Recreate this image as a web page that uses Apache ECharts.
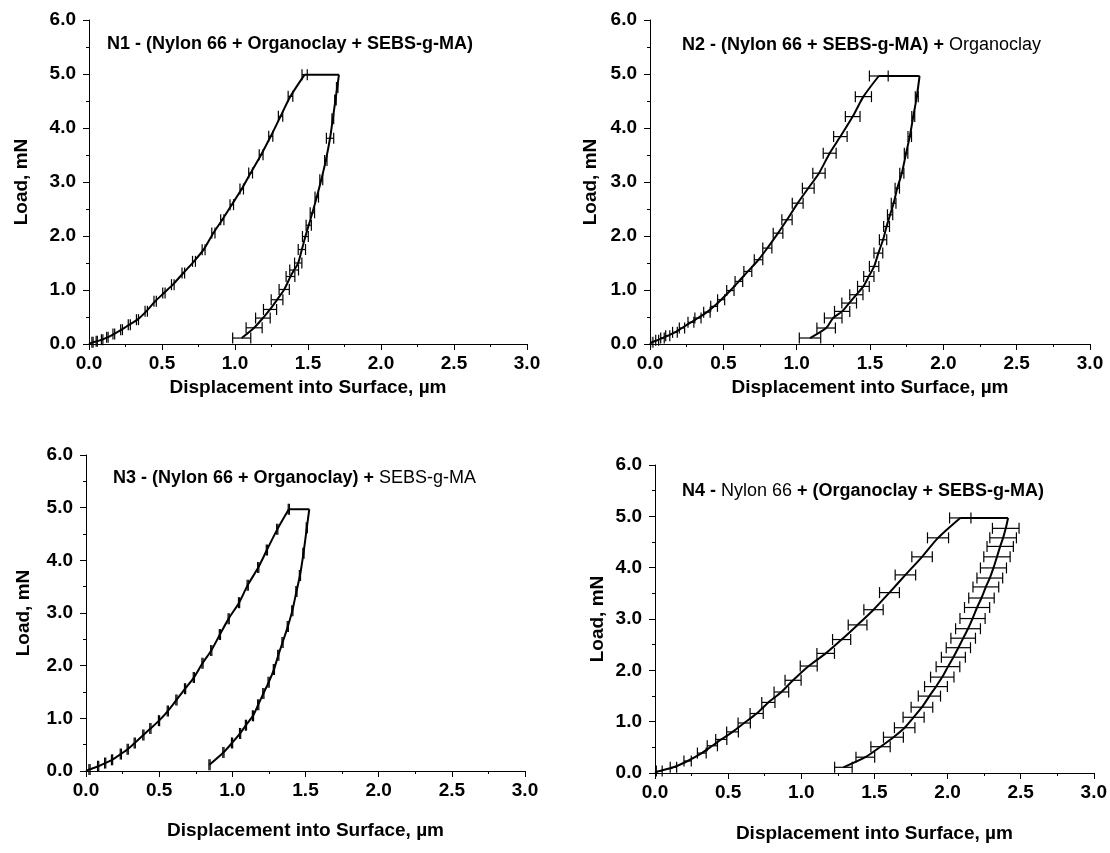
<!DOCTYPE html>
<html>
<head>
<meta charset="utf-8">
<script src="https://cdn.jsdelivr.net/npm/echarts@6/dist/echarts.min.js"></script>
<style>
  html, body { margin: 0; padding: 0; background: #fff; }
  #chart { width: 1110px; height: 853px; }
</style>
</head>
<body>
<div id="chart"></div>
<script>
// axis ticks
const xTicks = [0, 0.5, 1.0, 1.5, 2.0, 2.5, 3.0]
const yTicks = [0, 1, 2, 3, 4, 5, 6]

// N1 (x: µm, y: mN, err: ± µm; null = no bar)
const n1LoadX = [0, 0.024, 0.053, 0.090, 0.126, 0.170, 0.223, 0.276, 0.332, 0.392, 0.453, 0.513, 0.574, 0.646, 0.719, 0.785, 0.852, 0.913, 0.978, 1.046, 1.107, 1.179, 1.245, 1.312, 1.380, 1.477]
const n1LoadY = [0, 0.031, 0.049, 0.080, 0.123, 0.185, 0.265, 0.358, 0.451, 0.605, 0.790, 0.944, 1.099, 1.315, 1.531, 1.747, 2.056, 2.302, 2.580, 2.870, 3.167, 3.506, 3.846, 4.216, 4.586, 4.988]
const n1LoadErr = [null, 0.004, 0.004, 0.005, 0.005, 0.006, 0.006, 0.007, 0.007, 0.008, 0.008, 0.008, 0.009, 0.009, 0.010, 0.010, 0.011, 0.011, 0.012, 0.012, 0.013, 0.013, 0.014, 0.015, 0.016, 0.018]
const n1UnloadX = [1.712, 1.700, 1.688, 1.670, 1.651, 1.622, 1.591, 1.560, 1.530, 1.505, 1.482, 1.458, 1.433, 1.405, 1.380, 1.337, 1.288, 1.240, 1.191, 1.131, 1.046]
const n1UnloadY = [4.988, 4.75, 4.52, 4.17, 3.81, 3.40, 3.04, 2.72, 2.43, 2.20, 1.99, 1.75, 1.50, 1.37, 1.25, 1.01, 0.82, 0.64, 0.48, 0.30, 0.11]
const n1UnloadErr = [null, 0.005, 0.005, 0.006, 0.025, 0.008, 0.010, 0.012, 0.015, 0.018, 0.020, 0.025, 0.025, 0.030, 0.030, 0.035, 0.040, 0.045, 0.050, 0.055, 0.062]

// N2
const n2LoadX = [0, 0.012, 0.049, 0.085, 0.121, 0.170, 0.218, 0.279, 0.327, 0.388, 0.437, 0.485, 0.548, 0.606, 0.667, 0.740, 0.800, 0.873, 0.934, 1.007, 1.079, 1.152, 1.225, 1.298, 1.382, 1.455, 1.560]
const n2LoadY = [0, 0.031, 0.068, 0.111, 0.154, 0.216, 0.296, 0.401, 0.481, 0.590, 0.697, 0.820, 0.990, 1.159, 1.344, 1.560, 1.776, 2.053, 2.300, 2.608, 2.885, 3.163, 3.533, 3.841, 4.211, 4.581, 4.963]
const n2LoadErr = [null, 0.008, 0.010, 0.012, 0.014, 0.016, 0.018, 0.020, 0.021, 0.022, 0.023, 0.024, 0.025, 0.026, 0.027, 0.029, 0.031, 0.033, 0.035, 0.037, 0.040, 0.042, 0.044, 0.046, 0.050, 0.055, 0.064]
const n2UnloadX = [1.838, 1.819, 1.795, 1.771, 1.746, 1.717, 1.686, 1.661, 1.637, 1.613, 1.589, 1.557, 1.528, 1.492, 1.455, 1.407, 1.358, 1.310, 1.249, 1.201, 1.091]
const n2UnloadY = [4.963, 4.581, 4.211, 3.841, 3.533, 3.163, 2.885, 2.608, 2.392, 2.176, 1.930, 1.683, 1.436, 1.252, 1.067, 0.912, 0.758, 0.604, 0.481, 0.296, 0.111]
const n2UnloadErr = [null, 0.010, 0.010, 0.012, 0.012, 0.014, 0.015, 0.016, 0.018, 0.020, 0.025, 0.030, 0.032, 0.035, 0.040, 0.045, 0.050, 0.052, 0.060, 0.063, 0.073]

// N3
const n3LoadX = [0, 0.024, 0.083, 0.131, 0.178, 0.238, 0.285, 0.333, 0.392, 0.440, 0.499, 0.559, 0.618, 0.677, 0.737, 0.796, 0.856, 0.915, 0.975, 1.046, 1.105, 1.177, 1.236, 1.307, 1.386]
const n3LoadY = [0, 0.030, 0.091, 0.151, 0.212, 0.321, 0.412, 0.533, 0.684, 0.805, 0.956, 1.138, 1.350, 1.562, 1.774, 2.046, 2.288, 2.591, 2.893, 3.196, 3.529, 3.862, 4.195, 4.588, 4.970]
const n3LoadErr = [null, 0.004, 0.004, 0.004, 0.004, 0.004, 0.004, 0.004, 0.004, 0.004, 0.004, 0.004, 0.004, 0.004, 0.004, 0.004, 0.004, 0.004, 0.004, 0.004, 0.004, 0.004, 0.004, 0.004, 0.004]
const n3UnloadX = [1.526, 1.509, 1.486, 1.462, 1.438, 1.410, 1.379, 1.343, 1.314, 1.284, 1.248, 1.212, 1.177, 1.141, 1.093, 1.053, 0.998, 0.939, 0.844]
const n3UnloadY = [4.970, 4.619, 4.134, 3.711, 3.408, 3.045, 2.742, 2.439, 2.197, 1.925, 1.683, 1.471, 1.259, 1.047, 0.870, 0.714, 0.533, 0.351, 0.120]
const n3UnloadErr = [null, 0.004, 0.004, 0.004, 0.004, 0.004, 0.004, 0.004, 0.004, 0.004, 0.004, 0.004, 0.004, 0.004, 0.004, 0.004, 0.004, 0.004, 0.004]

// N4
const n4LoadX = [0, 0.029, 0.126, 0.223, 0.320, 0.392, 0.453, 0.530, 0.610, 0.695, 0.775, 0.864, 0.944, 1.051, 1.167, 1.276, 1.385, 1.494, 1.603, 1.712, 1.826, 1.935, 2.087]
const n4LoadY = [0, 0.037, 0.111, 0.234, 0.388, 0.530, 0.654, 0.801, 0.974, 1.159, 1.375, 1.578, 1.806, 2.084, 2.330, 2.600, 2.885, 3.181, 3.514, 3.859, 4.211, 4.581, 4.969]
const n4LoadErr = [null, 0.020, 0.022, 0.025, 0.030, 0.035, 0.038, 0.040, 0.042, 0.045, 0.045, 0.050, 0.055, 0.058, 0.060, 0.062, 0.064, 0.066, 0.068, 0.070, 0.070, 0.072, 0.073]
const n4UnloadX = [2.414, 2.398, 2.380, 2.360, 2.338, 2.314, 2.289, 2.262, 2.232, 2.202, 2.171, 2.140, 2.107, 2.074, 2.040, 2.003, 1.964, 1.921, 1.876, 1.825, 1.768, 1.707, 1.630, 1.542, 1.438, 1.288]
const n4UnloadY = [4.969, 4.766, 4.581, 4.414, 4.211, 3.995, 3.798, 3.625, 3.409, 3.224, 3.009, 2.811, 2.626, 2.441, 2.256, 2.072, 1.868, 1.683, 1.498, 1.282, 1.085, 0.882, 0.697, 0.512, 0.308, 0.111]
const n4UnloadErr = [null, 0.091, 0.091, 0.090, 0.090, 0.089, 0.088, 0.088, 0.087, 0.086, 0.086, 0.085, 0.084, 0.083, 0.082, 0.081, 0.080, 0.078, 0.076, 0.074, 0.072, 0.070, 0.068, 0.066, 0.064, 0.060]

const panels = [
  { lx: n1LoadX, ly: n1LoadY, le: n1LoadErr, ux: n1UnloadX, uy: n1UnloadY, ue: n1UnloadErr,
    grid: { left: 89, top: 20, width: 438, height: 324 }, yGap: 58, xGap: 34,
    title: '{b|N1 - (Nylon 66 + Organoclay + SEBS-g-MA)}', tl: 107, tt: 35 },
  { lx: n2LoadX, ly: n2LoadY, le: n2LoadErr, ux: n2UnloadX, uy: n2UnloadY, ue: n2UnloadErr,
    grid: { left: 650, top: 20, width: 440, height: 324 }, yGap: 50, xGap: 34,
    title: '{b|N2 - (Nylon 66 + SEBS-g-MA) +} {r|Organoclay}', tl: 682, tt: 36 },
  { lx: n3LoadX, ly: n3LoadY, le: n3LoadErr, ux: n3UnloadX, uy: n3UnloadY, ue: n3UnloadErr,
    grid: { left: 86, top: 455, width: 439, height: 316 }, yGap: 53, xGap: 50,
    title: '{b|N3 - (Nylon 66 + Organoclay) +} {r|SEBS-g-MA}', tl: 113, tt: 469 },
  { lx: n4LoadX, ly: n4LoadY, le: n4LoadErr, ux: n4UnloadX, uy: n4UnloadY, ue: n4UnloadErr,
    grid: { left: 655, top: 465, width: 439, height: 308 }, yGap: 48, xGap: 51,
    title: '{b|N4 -} {r|Nylon 66} {b|+ (Organoclay + SEBS-g-MA)}', tl: 682, tt: 482 },
]

const FONT = '"Liberation Sans", Arial, sans-serif'
const chart = echarts.init(document.getElementById('chart'))

// horizontal error bar with vertical caps
function renderErr(params, api) {
  const x = api.value(0), y = api.value(1), e = api.value(2)
  const l = api.coord([x - e, y])
  const r = api.coord([x + e, y])
  const h = 5.5
  const st = { stroke: '#000', lineWidth: 1.2 }
  return {
    type: 'group',
    children: [
      { type: 'line', shape: { x1: l[0], y1: l[1], x2: r[0], y2: r[1] }, style: st },
      { type: 'line', shape: { x1: l[0], y1: l[1] - h, x2: l[0], y2: l[1] + h }, style: st },
      { type: 'line', shape: { x1: r[0], y1: r[1] - h, x2: r[0], y2: r[1] + h }, style: st },
    ],
  }
}

function pts(xs, ys) {
  return xs.map((x, k) => [x, ys[k]])
}

function bars(xs, ys, es) {
  return xs.map((x, k) => [x, ys[k], es[k]]).filter(d => d[2] != null)
}

const lineStyle = { color: '#000', width: 2 }
const labelStyle = { fontFamily: FONT, fontWeight: 'bold', fontSize: 19, color: '#000' }

const option = {
  animation: false,
  backgroundColor: '#fff',
  title: panels.map(p => ({
    text: p.title,
    left: p.tl,
    top: p.tt,
    padding: 0,
    textStyle: {
      rich: {
        b: { fontFamily: FONT, fontWeight: 'bold', fontSize: 18, color: '#000' },
        r: { fontFamily: FONT, fontWeight: 'normal', fontSize: 18, color: '#000' },
      },
    },
  })),
  grid: panels.map(p => p.grid),
  xAxis: panels.map((p, i) => ({
    type: 'value',
    gridIndex: i,
    min: xTicks[0],
    max: xTicks[xTicks.length - 1],
    interval: 0.5,
    name: 'Displacement into Surface, µm',
    nameLocation: 'middle',
    nameGap: p.xGap,
    nameTextStyle: labelStyle,
    axisLine: { lineStyle: { color: '#000', width: 1 } },
    axisTick: { inside: false, length: 6, lineStyle: { color: '#000' } },
    minorTick: { show: true, splitNumber: 2, length: 3, lineStyle: { color: '#000' } },
    splitLine: { show: false },
    axisLabel: { ...labelStyle, margin: 10, formatter: v => v.toFixed(1) },
  })),
  yAxis: panels.map((p, i) => ({
    type: 'value',
    gridIndex: i,
    min: yTicks[0],
    max: yTicks[yTicks.length - 1],
    interval: 1,
    name: 'Load, mN',
    nameLocation: 'middle',
    nameGap: p.yGap,
    nameTextStyle: labelStyle,
    axisLine: { show: true, lineStyle: { color: '#000', width: 1 } },
    axisTick: { show: true, inside: false, length: 6, lineStyle: { color: '#000' } },
    minorTick: { show: true, splitNumber: 2, length: 3, lineStyle: { color: '#000' } },
    splitLine: { show: false },
    axisLabel: { ...labelStyle, margin: 13, formatter: v => v.toFixed(1) },
  })),
  series: panels.flatMap((p, i) => [
    { type: 'line', xAxisIndex: i, yAxisIndex: i, data: pts(p.lx, p.ly),
      symbol: 'none', smooth: 0.25, lineStyle, z: 3 },
    { type: 'line', xAxisIndex: i, yAxisIndex: i,
      data: [[p.lx[p.lx.length - 1], p.ly[p.ly.length - 1]], [p.ux[0], p.uy[0]]],
      symbol: 'none', lineStyle, z: 3 },
    { type: 'line', xAxisIndex: i, yAxisIndex: i, data: pts(p.ux, p.uy),
      symbol: 'none', smooth: 0.25, lineStyle, z: 3 },
    { type: 'custom', xAxisIndex: i, yAxisIndex: i, renderItem: renderErr, clip: false,
      data: bars(p.lx, p.ly, p.le).concat(bars(p.ux, p.uy, p.ue)), z: 4 },
  ]),
}

chart.setOption(option)
</script>
</body>
</html>
